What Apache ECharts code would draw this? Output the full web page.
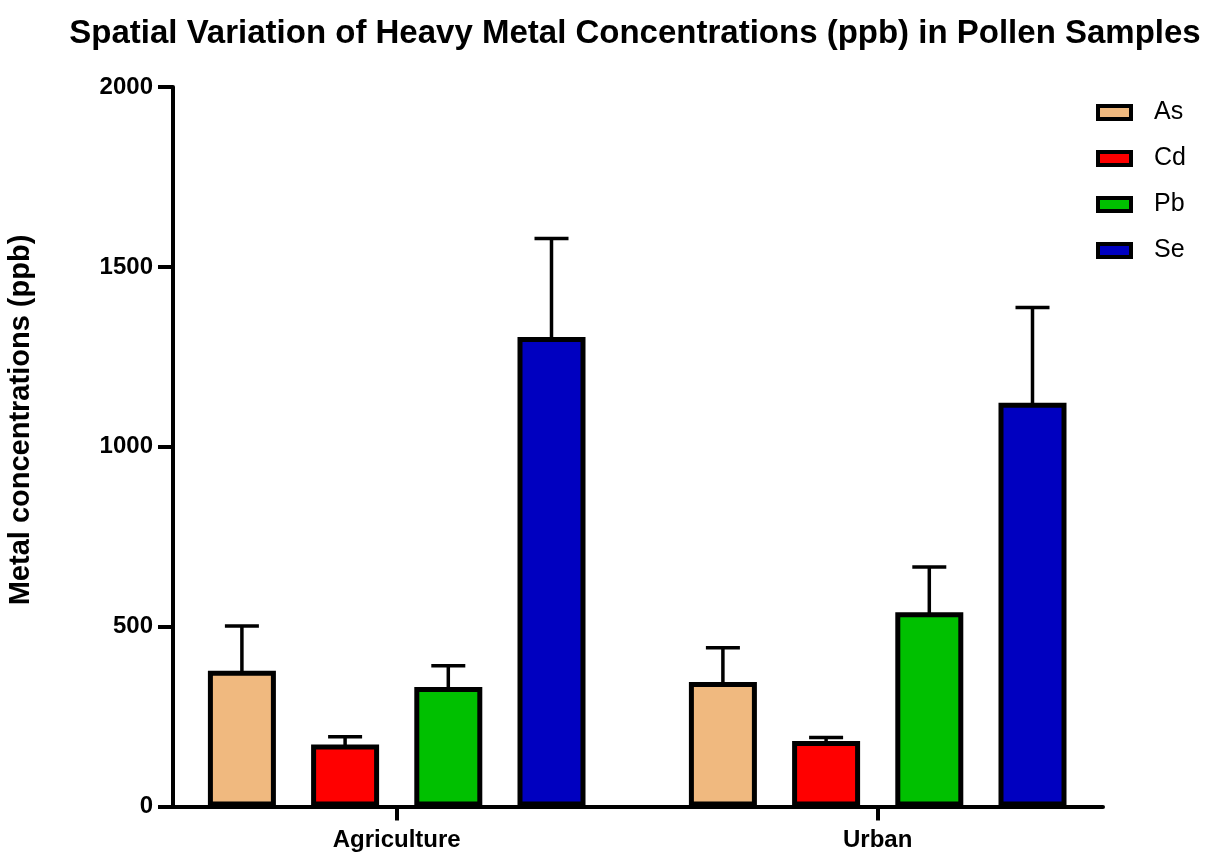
<!DOCTYPE html>
<html>
<head>
<meta charset="utf-8">
<title>Heavy metal concentrations in pollen</title>
<script src="https://cdn.jsdelivr.net/npm/echarts@6/dist/echarts.min.js"></script>
<style>
  html, body { margin: 0; padding: 0; background: #fff; }
  #chart { width: 1206px; height: 854px; }
</style>
</head>
<body>
<div id="chart"></div>
<script>
// Sites and metals
const sites = ['Agriculture', 'Urban'];
const metals = ['As', 'Cd', 'Pb', 'Se'];

// Mean concentration (ppb) per site, one array per metal
const asMean = [377, 346];
const cdMean = [172, 182];
const pbMean = [332, 540];
const seMean = [1305, 1122];

// Standard deviation (ppb), drawn as upward error bars
const asSD = [125, 95];
const cdSD = [22, 10];
const pbSD = [59, 126];
const seSD = [274, 265];

// Y axis ticks
const yTicks = [0, 500, 1000, 1500, 2000];

const means = [asMean, cdMean, pbMean, seMean];
const sds = [asSD, cdSD, pbSD, seSD];
const colors = ['#F0B97F', '#FF0000', '#00C000', '#0000C0'];

const FONT = '"Liberation Sans", Arial, Helvetica, sans-serif';
const BAR_W = 68;
const STEP = 103.2;
const CAP_HALF = 17;

const chart = echarts.init(document.getElementById('chart'), null, { renderer: 'canvas' });

const barSeries = metals.map((m, i) => ({
  name: m,
  type: 'bar',
  xAxisIndex: 1,
  yAxisIndex: 1,
  barWidth: BAR_W,
  barGap: ((STEP - BAR_W) / BAR_W * 100) + '%',
  data: means[i],
  z: 3,
  itemStyle: { color: colors[i], borderColor: '#000', borderWidth: 5 },
  emphasis: { disabled: true }
}));

const errSeries = metals.map((m, i) => ({
  name: m + ' SD',
  type: 'custom',
  xAxisIndex: 1,
  yAxisIndex: 1,
  z: 2,
  silent: true,
  data: sites.map((s, k) => [k, means[i][k], sds[i][k]]),
  renderItem: function (params, api) {
    const k = api.value(0);
    const mean = api.value(1);
    const sd = api.value(2);
    const base = api.coord([k, mean]);
    const top = api.coord([k, mean + sd]);
    const x = base[0] + (i - 1.5) * STEP;
    const st = { stroke: '#000', lineWidth: 3.5 };
    return {
      type: 'group',
      children: [
        { type: 'line', shape: { x1: x, y1: base[1] + 3, x2: x, y2: top[1] }, style: st },
        { type: 'line', shape: { x1: x - CAP_HALF, y1: top[1], x2: x + CAP_HALF, y2: top[1] }, style: st }
      ]
    };
  }
}));

const option = {
  backgroundColor: '#fff',
  animation: false,
  title: {
    text: 'Spatial Variation of Heavy Metal Concentrations (ppb) in Pollen Samples',
    left: 630,
    textAlign: 'center',
    top: 12,
    textStyle: { fontFamily: FONT, fontWeight: 'bold', fontSize: 33, color: '#000' }
  },
  legend: {
    orient: 'vertical',
    left: 1091,
    top: 95,
    itemWidth: 33,
    itemHeight: 13,
    itemGap: 21,
    icon: 'rect',
    selectedMode: false,
    data: metals,
    itemStyle: { borderColor: '#000', borderWidth: 4 },
    textStyle: { fontFamily: FONT, fontSize: 25, color: '#000', padding: [0, 0, 0, 18] }
  },
  graphic: [{
    type: 'text',
    x: 21,
    y: 420,
    rotation: Math.PI / 2,
    style: {
      text: 'Metal concentrations (ppb)',
      font: 'bold 29px ' + FONT,
      fill: '#000',
      align: 'center',
      verticalAlign: 'middle'
    }
  }],
  grid: [
    // visible frame with the value axis
    { left: 173, right: 103, top: 87, bottom: 47.5, containLabel: false },
    // category band layout for the bars
    { left: 156.2, right: 87.8, top: 87, bottom: 47.5, containLabel: false }
  ],
  xAxis: [
    {
      type: 'value', gridIndex: 0, min: 0, max: 1,
      axisLine: { show: true, onZero: false, lineStyle: { color: '#000', width: 4 } },
      axisTick: { show: false }, axisLabel: { show: false }, splitLine: { show: false }
    },
    {
      type: 'category', gridIndex: 1, data: sites,
      axisLine: { show: false },
      axisTick: { show: true, alignWithLabel: true, length: 14, lineStyle: { color: '#000', width: 4 } },
      axisLabel: { margin: 22, fontFamily: FONT, fontWeight: 'bold', fontSize: 24, color: '#000' },
      splitLine: { show: false }
    }
  ],
  yAxis: [
    {
      type: 'value', gridIndex: 0,
      min: yTicks[0], max: yTicks[yTicks.length - 1], interval: yTicks[1] - yTicks[0],
      axisLine: { show: true, lineStyle: { color: '#000', width: 4 } },
      axisTick: { show: true, length: 15, lineStyle: { color: '#000', width: 4 } },
      axisLabel: {
        margin: 20, fontFamily: FONT, fontWeight: 'bold', fontSize: 24, color: '#000',
        formatter: v => String(v)
      },
      splitLine: { show: false }
    },
    {
      type: 'value', gridIndex: 1, show: false,
      min: yTicks[0], max: yTicks[yTicks.length - 1]
    }
  ],
  series: barSeries.concat(errSeries)
};

chart.setOption(option);
</script>
</body>
</html>
